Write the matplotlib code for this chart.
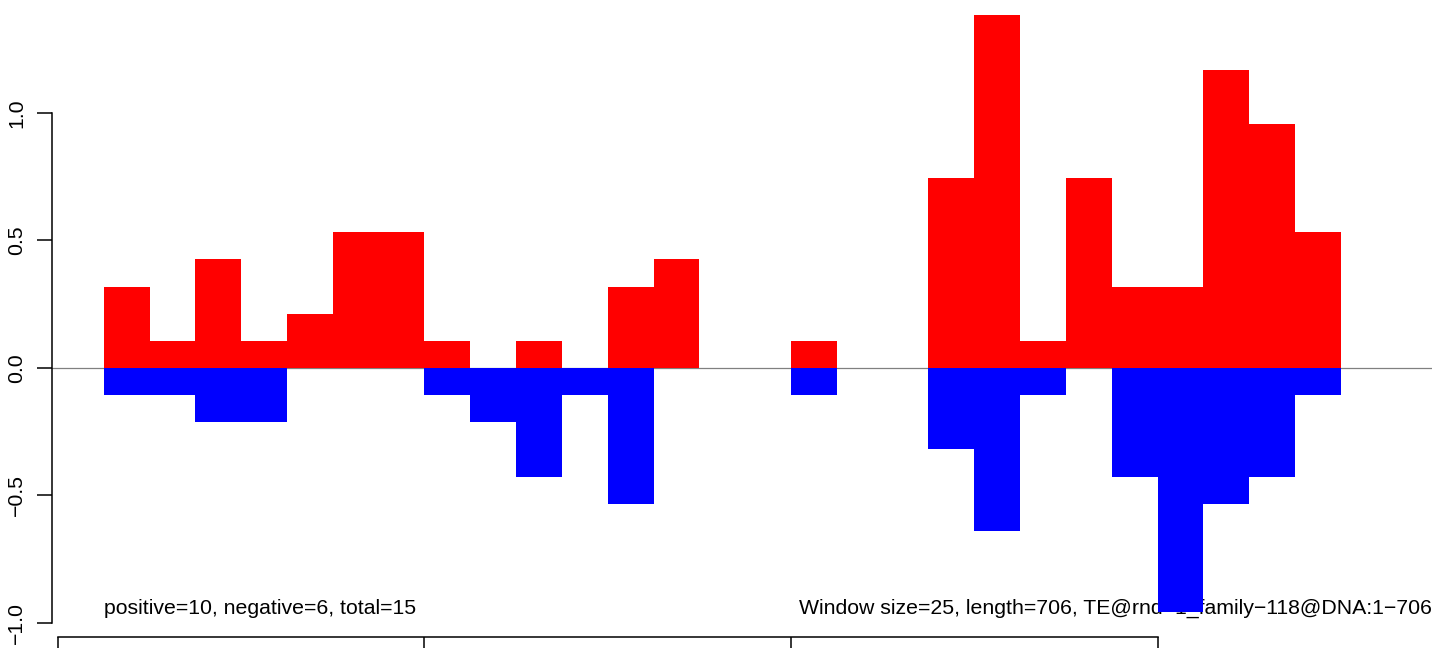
import numpy as np
import matplotlib.pyplot as plt

plt.rcParams['font.family'] = ['Liberation Sans', 'DejaVu Sans']

# window start positions (window size 25) and scores per window
win_size = 25
win_start = [25 * i for i in range(1, 28)]
unit = 0.1064
pos_counts = [3, 1, 4, 1, 2, 5, 5, 1, 0, 1, 0, 3, 4, 0, 0, 1, 0, 0, 7, 13, 1, 7, 3, 3, 11, 9, 5]
neg_counts = [1, 1, 2, 2, 0, 0, 0, 1, 2, 4, 1, 5, 0, 0, 0, 1, 0, 0, 3, 6, 1, 0, 4, 9, 5, 4, 1]
pos_vals = [c * unit for c in pos_counts]
neg_vals = [-c * unit for c in neg_counts]

x_ticks = [0, 200, 400, 600]
y_ticks = [-1.0, -0.5, 0.0, 0.5, 1.0]
y_labels = ['\u22121.0', '\u22120.5', '0.0', '0.5', '1.0']

left_note = 'positive=10, negative=6, total=15'
right_note = 'Window size=25, length=706, TE@rnd\u22121_family\u2212118@DNA:1\u2212706'

W, H = 1444, 655
fig = plt.figure(figsize=(W / 100, H / 100), dpi=100)
ax = fig.add_axes([52 / W, 18 / H, (1432 - 52) / W, 637 / H])

ax.axhline(0, color='#808080', lw=0.9, zorder=1)
ax.bar(win_start, pos_vals, width=win_size, align='edge', color='#ff0000', lw=0, zorder=2)
ax.bar(win_start, neg_vals, width=win_size, align='edge', color='#0000ff', lw=0, zorder=2)

x_lo, x_hi = -3.2, 749.7
ax.text(25, -0.965, left_note, ha='left', va='baseline', fontsize=15.3, zorder=1.5)
ax.text(x_hi, -0.965, right_note, ha='right', va='baseline', fontsize=15.3, zorder=1.5)

ax.set_xlim(x_lo, x_hi)
ax.set_ylim(-1.055, 1.443)

for s in ['top', 'right']:
    ax.spines[s].set_visible(False)
ax.spines['left'].set_bounds(-1, 1)
ax.spines['bottom'].set_bounds(0, 600)
ax.spines['left'].set_linewidth(1.1)
ax.spines['bottom'].set_linewidth(1.1)

ax.set_xticks(x_ticks)
ax.set_xticklabels([])
ax.tick_params(axis='x', direction='out', length=8, width=1.1)
ax.set_yticks(y_ticks)
ax.set_yticklabels(y_labels, rotation=90, va='center', fontsize=15.3)
ax.tick_params(axis='y', direction='out', length=10.5, width=1.1, pad=8)

fig.savefig('out.png', dpi=100)
